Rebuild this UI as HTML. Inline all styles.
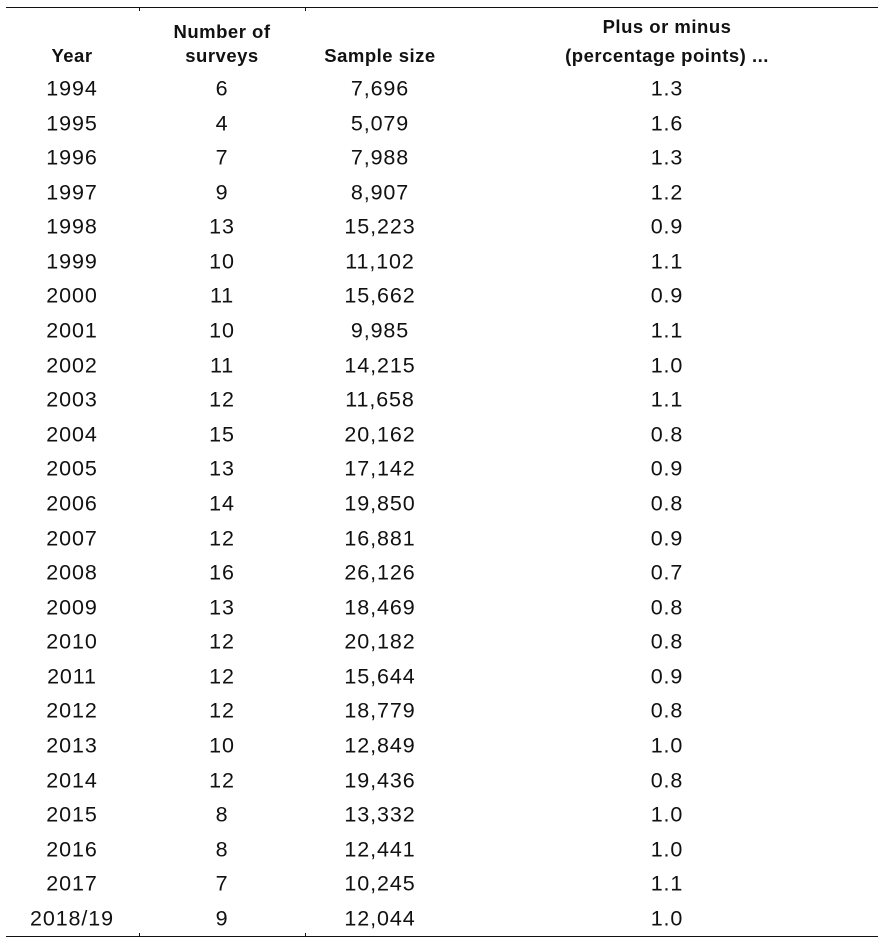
<!DOCTYPE html>
<html><head><meta charset="utf-8"><style>
html,body{margin:0;padding:0;background:#fff;}
#t{position:relative;width:884px;height:944px;font-family:"Liberation Sans",sans-serif;color:#111;}
.c{position:absolute;transform:translate(-50%,-50%);white-space:nowrap;font-size:21.5px;letter-spacing:0.9px;}
.h{position:absolute;transform:translate(-50%,-50%);white-space:nowrap;font-size:18.5px;font-weight:bold;letter-spacing:0.5px;}
.rule{position:absolute;left:6px;width:872px;height:1px;background:#111;}
.tick{position:absolute;width:1px;height:4px;background:#111;}
</style></head><body>
<div id="t">
<div class="rule" style="top:7px"></div>
<div class="tick" style="left:139px;top:7px"></div>
<div class="tick" style="left:305px;top:7px"></div>
<div class="h" style="left:72px;top:56px">Year</div>
<div class="h" style="left:222px;top:32px">Number of</div>
<div class="h" style="left:222px;top:56px">surveys</div>
<div class="h" style="left:380px;top:56px">Sample size</div>
<div class="h" style="left:667px;top:27px">Plus or minus</div>
<div class="h" style="left:667px;top:56px">(percentage points) ...</div>
<div class="rule" style="top:936px"></div>
<div class="tick" style="left:139px;top:933px"></div>
<div class="tick" style="left:305px;top:933px"></div>
</div>
<script>
const years=["1994","1995","1996","1997","1998","1999","2000","2001","2002","2003","2004","2005","2006","2007","2008","2009","2010","2011","2012","2013","2014","2015","2016","2017","2018/19"];
const surveys=["6","4","7","9","13","10","11","10","11","12","15","13","14","12","16","13","12","12","12","10","12","8","8","7","9"];
const samples=["7,696","5,079","7,988","8,907","15,223","11,102","15,662","9,985","14,215","11,658","20,162","17,142","19,850","16,881","26,126","18,469","20,182","15,644","18,779","12,849","19,436","13,332","12,441","10,245","12,044"];
const margins=["1.3","1.6","1.3","1.2","0.9","1.1","0.9","1.1","1.0","1.1","0.8","0.9","0.8","0.9","0.7","0.8","0.8","0.9","0.8","1.0","0.8","1.0","1.0","1.1","1.0"];
const t=document.getElementById('t');
const cols=[[years,72,'year-cell'],[surveys,222,'surveys-cell'],[samples,380,'sample-size-cell'],[margins,667,'margin-cell']];
for(let i=0;i<years.length;i++){
  const y=89+i*34.58;
  for(const [arr,x,name] of cols){
    const d=document.createElement('div');
    d.className='c';
    d.style.left=x+'px';d.style.top=y+'px';
    d.textContent=arr[i];
    
    
    t.appendChild(d);
  }
}
</script>
</body></html>
